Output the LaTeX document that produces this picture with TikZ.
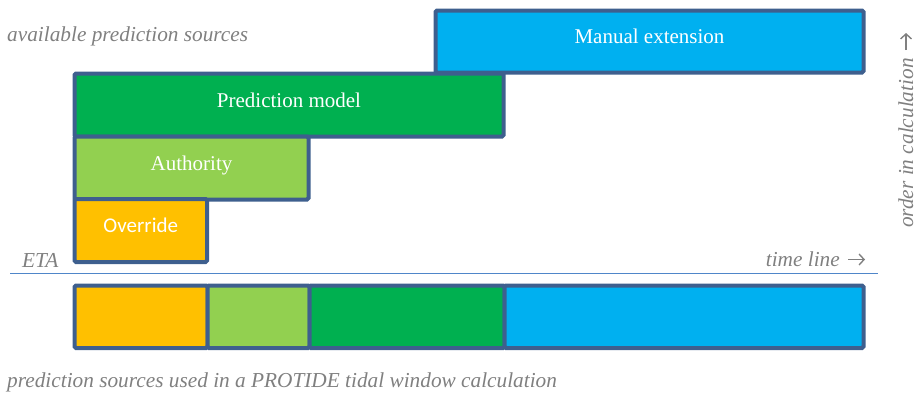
\documentclass[tikz,border=0pt]{standalone}
\usepackage{fontspec}
\usetikzlibrary{arrows.meta}
\setmainfont{Liberation Serif}
\newfontfamily\calibrifont{Carlito}
\definecolor{cOrange}{HTML}{FFC000}
\definecolor{cLight}{HTML}{92D050}
\definecolor{cGreen}{HTML}{00B050}
\definecolor{cBlue}{HTML}{00B0F0}
\definecolor{cEdge}{HTML}{3E5F8E}
\definecolor{cLine}{HTML}{4F86C9}
\definecolor{cNote}{HTML}{808080}
\tikzset{
  srcbox/.style={draw=cEdge, line width=4pt, rounded corners=1.5pt, inner sep=0pt,
    outer sep=0pt, text=white, text height=12pt, text depth=8pt,
    font=\fontsize{21}{24}\selectfont},
  note/.style={text=cNote, font=\fontsize{21.3}{24}\selectfont\itshape, inner sep=0pt},
  notearrow/.style={draw=cNote, line width=1.4pt, -{Straight Barb[length=5pt,width=11pt]}},
}
\begin{document}
\begin{tikzpicture}[x=1pt,y=-1pt]
\useasboundingbox (0,0) rectangle (917,394);
% stacked prediction sources
\node[srcbox, fill=cBlue, minimum width=428pt, minimum height=62pt, anchor=north west] (manual) at (435.5,10.5) {Manual extension};
\node[srcbox, fill=cGreen, minimum width=429pt, minimum height=63pt, anchor=north west] (model) at (74.5,73.5) {Prediction model};
\node[srcbox, fill=cLight, minimum width=234pt, minimum height=63pt, anchor=north west] (authority) at (74.5,136.5) {Authority};
\node[srcbox, fill=cOrange, minimum width=132.5pt, minimum height=63pt, anchor=north west, font=\calibrifont\fontsize{21}{24}\selectfont] (override) at (74.5,199) {Override};
% time line
\coordinate (tlL) at (10,273.5);
\coordinate (tlR) at (878,273.5);
\draw[cLine, line width=1.6pt] (tlL) -- (tlR);
\node[note, anchor=base west] (eta) at (22,267) {ETA};
\node[note, anchor=base east] (tl) at (840,266.5) {time line};
\draw[notearrow] ([xshift=8pt,yshift=7pt]tl.base east) -- ++(17,0);
% resulting sequence
\node[srcbox, fill=cOrange, minimum width=133pt, minimum height=62.5pt, anchor=north west] (r1) at (74.5,285.5) {};
\node[srcbox, fill=cLight, minimum width=102pt, minimum height=62.5pt, anchor=north west] (r2) at (r1.north east) {};
\node[srcbox, fill=cGreen, minimum width=195pt, minimum height=62.5pt, anchor=north west] (r3) at (r2.north east) {};
\node[srcbox, fill=cBlue, minimum width=359pt, minimum height=62.5pt, anchor=north west] (r4) at (r3.north east) {};
% captions
\node[note, anchor=base west] (avail) at (7,41) {available prediction sources};
\node[note, anchor=base west] (used) at (7,387) {prediction sources used in a PROTIDE tidal window calculation};
\node[note, anchor=base west, rotate=90] (order) at (913,228) {order in calculation};
\draw[notearrow] ([xshift=-7pt,yshift=8pt]order.base east) -- ++(0,-17);
\end{tikzpicture}
\end{document}
